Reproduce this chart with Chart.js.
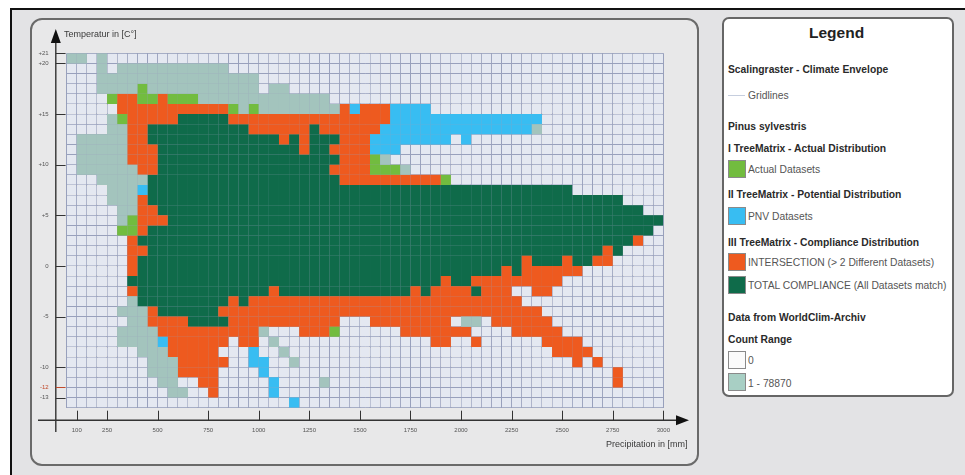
<!DOCTYPE html>
<html>
<head>
<meta charset="utf-8">
<title>Pinus sylvestris - Climate Envelope</title>
<script src="https://cdn.jsdelivr.net/npm/chart.js@4"></script>
<style>
   html, body { margin: 0; width: 965px; height: 475px; overflow: hidden; background: #fff; }
   body, #stage * { font-family: "Liberation Sans", Arial, sans-serif; }
   #stage { position: absolute; left: 0; top: 0; width: 965px; height: 475px; filter: blur(0.6px); }
   #frame { position: absolute; left: 10px; top: 8px; right: 0; bottom: 0; background: #e3e3e5;
            border-left: 2px solid #111; border-top: 2px solid #111; }
   #panel { position: absolute; left: 30px; top: 18px; width: 665px; height: 444px; background: #e8e8e9;
            border: 2px solid #6a6a6a; border-radius: 12px; }
   #legend { position: absolute; left: 722px; top: 17px; width: 228px; height: 376px; background: #fff;
             border: 2px solid #666; border-radius: 7px; }
   canvas { position: absolute; left: 0; top: 0; }
   .t { position: absolute; white-space: nowrap; transform: translateY(-50%); color: #555; font-size: 10.3px; left: 748px; }
   .b { position: absolute; white-space: nowrap; transform: translateY(-50%); color: #2a2a2a; font-size: 10.3px; font-weight: bold; left: 728px; }
   .s { position: absolute; left: 728px; width: 16px; height: 16px; border: 1px solid #8a8a8a; }
</style>
</head>
<body>
<div id="stage">
   <div id="frame"></div>
   <div id="panel"></div>
   <div id="legend"></div>

   <div class="b" style="left:809px;top:33px;font-size:15.5px;color:#222">Legend</div>
   <div class="b" style="top:69px">Scalingraster - Climate Envelope</div>
   <div style="position:absolute;left:728px;top:95px;width:17px;height:1px;background:#c6cede"></div>
   <div class="t" style="top:95px">Gridlines</div>
   <div class="b" style="top:126px">Pinus sylvestris</div>
   <div class="b" style="top:148px">I TreeMatrix - Actual Distribution</div>
   <div class="s" style="top:160px;background:#72bc3f"></div>
   <div class="t" style="top:169px">Actual Datasets</div>
   <div class="b" style="top:194px">II TreeMatrix - Potential Distribution</div>
   <div class="s" style="top:207px;background:#38bdf2"></div>
   <div class="t" style="top:216px">PNV Datasets</div>
   <div class="b" style="top:242px">III TreeMatrix - Compliance Distribution</div>
   <div class="s" style="top:253px;background:#ee5a1f"></div>
   <div class="t" style="top:262px">INTERSECTION (&gt; 2 Different Datasets)</div>
   <div class="s" style="top:276px;background:#0f6b4a"></div>
   <div class="t" style="top:285px">TOTAL COMPLIANCE (All Datasets match)</div>
   <div class="b" style="top:317px">Data from WorldClim-Archiv</div>
   <div class="b" style="top:339px">Count Range</div>
   <div class="s" style="top:351px;background:#fbfbfb"></div>
   <div class="t" style="top:360px">0</div>
   <div class="s" style="top:373px;background:#a8cfc4"></div>
   <div class="t" style="top:383px">1 - 78870</div>

   <canvas id="envelopeChart" width="965" height="475"></canvas>
</div>

<script>
// lower edge of every precipitation column, in mm
const precipitationBins = [
   50, 100, 150, 200, 250, 300, 350, 400, 450, 500, 550, 600, 650, 700, 750, 800, 850, 900, 950, 1000,
   1050, 1100, 1150, 1200, 1250, 1300, 1350, 1400, 1450, 1500, 1550, 1600, 1650, 1700, 1750, 1800, 1850, 1900, 1950, 2000,
   2050, 2100, 2150, 2200, 2250, 2300, 2350, 2400, 2450, 2500, 2550, 2600, 2650, 2700, 2750, 2800, 2850, 2900, 2950
];
// lower edge of every temperature row, in degrees, top row first
const temperatureBins = [
   20, 19, 18, 17, 16, 15, 14, 13, 12, 11, 10, 9, 8, 7, 6, 5, 4, 3, 2, 1, 0,
   -1, -2, -3, -4, -5, -6, -7, -8, -9, -10, -11, -12, -13, -14
];
// one line per temperature row: class letter + column range, anything not listed is count 0
// g = count 1-78870, a = actual, p = PNV, i = intersection, t = total compliance
const cellRuns = [
   "g0-1 g3",
   "g3 g5-15",
   "g3-18",
   "g3-6 a7 g8-18 g20-21",
   "a4 i5-6 a7-8 i9 a10-12 g13-25",
   "i5-15 a16 g17 a18 g19-26 i27 p28 i29-31 p32-35",
   "g4 a5 i6-10 t11-15 i16-31 p32-46",
   "g4-5 i6-7 t8-17 i18-23 t24 i25-30 p31-45 g46",
   "g1-5 i6-7 t8-20 i21 t22 i23 t24-26 i27-29 p30-37 p39",
   "g1-5 i6-8 t9-22 i23 t24-25 i26-29 p30-32",
   "g1-5 i6-8 t9-26 i27-29 a30 g31",
   "g1-6 i7-8 t9-25 i26-29 a30-32 g33",
   "g3-7 t8-26 i27-36 a37",
   "g4-6 p7 t8-49",
   "g4-6 i7 t8-54",
   "g5-6 i7-8 t9-56",
   "g5 a6 i7-9 t10-58",
   "a5-6 i7 t8-57",
   "i6 t7-55 i56",
   "i6-7 t8-52 i53 t54",
   "i6 t7-44 i45 t46-48 i49 t50-51 i52-53",
   "i6 t7-42 i43 t44 i45-50",
   "t6-36 i37 t38-39 i40-48",
   "i6 t7-19 i20 t21-33 i34 t35 i36-39 t40 i41-43 i46-47",
   "g6 t7-15 i16 t17 i18-44",
   "g5-7 i8 t9-14 i15-46",
   "g6-7 i8-11 t12-15 i16-26 i30-37 g39-40 i42-47",
   "g5-8 i9-18 g19 i23-25 a26 i33-39 i44-48",
   "g5-8 p9 i10-15 i17-18 g20 i36-37 i40 i47-50",
   "g7-9 i10-14 p18 g21 i48-51",
   "g8-10 i11-15 p18-19 g22 i50 i52",
   "g8-10 i11-14 p19 i54",
   "g9-10 i13-14 p20 g25 i54",
   "g10-11 i14 p20",
   "p22"
];
const xTickValues = [100, 250, 500, 750, 1000, 1250, 1500, 1750, 2000, 2250, 2500, 2750, 3000];
const yTickValues = [21, 20, 15, 10, 5, 0, -5, -10, -12, -13];
const yTickLabels = ['+21', '+20', '+15', '+10', '+5', '0', '-5', '-10', '-12', '-13'];

const classNames = { z: 'Count 0', g: 'Count 1 - 78870', a: 'Actual Datasets', p: 'PNV Datasets', i: 'INTERSECTION', t: 'TOTAL COMPLIANCE' };
const classColors = { z: '#e4e8f1', g: '#a3c4bd', a: '#72bc3f', p: '#38bdf2', i: '#ee5a1f', t: '#0f6b4a' };

// expand the runs into one list of points per class
const cellPoints = { z: [], g: [], a: [], p: [], i: [], t: [] };
cellRuns.forEach((line, row) => {
   const cols = precipitationBins.map(() => 'z');
   line.split(' ').forEach(run => {
      const [from, to] = run.slice(1).split('-').map(Number);
      for (let c = from; c <= (to === undefined ? from : to); c++) cols[c] = run[0];
   });
   cols.forEach((cls, c) => {
      cellPoints[cls].push({ x: precipitationBins[c] + 25, y: temperatureBins[row] + 0.5 });
   });
});

// axis lines with arrow heads and the tick marks, placed off the scales
const axesPlugin = {
   id: 'axes',
   afterDraw(chart) {
      const { ctx, scales: { x, y }, chartArea: area } = chart;
      const axisY = area.bottom + 12.5;
      const axisX = area.left - 10.8;
      ctx.save();
      ctx.strokeStyle = '#333';
      ctx.fillStyle = '#111';
      ctx.lineWidth = 1.4;
      ctx.beginPath();
      ctx.moveTo(38, axisY);
      ctx.lineTo(680, axisY);
      ctx.moveTo(axisX, 42);
      ctx.lineTo(axisX, 432);
      ctx.stroke();
      // arrows
      ctx.beginPath();
      ctx.moveTo(689, axisY);
      ctx.lineTo(676, axisY - 5);
      ctx.lineTo(676, axisY + 5);
      ctx.closePath();
      ctx.moveTo(axisX, 29);
      ctx.lineTo(axisX - 5, 43);
      ctx.lineTo(axisX + 5, 43);
      ctx.closePath();
      ctx.fill();
      // tick marks
      ctx.lineWidth = 1;
      xTickValues.forEach(v => {
         const px = Math.round(x.getPixelForValue(v)) + 0.5;
         ctx.beginPath();
         ctx.moveTo(px, area.bottom + 3);
         ctx.lineTo(px, axisY);
         ctx.stroke();
      });
      yTickValues.forEach(v => {
         const py = Math.round(y.getPixelForValue(v)) + 0.5;
         ctx.strokeStyle = v === -12 ? '#c0492b' : '#333';
         ctx.beginPath();
         ctx.moveTo(axisX, py);
         ctx.lineTo(area.left - 1, py);
         ctx.stroke();
      });
      // axis titles
      ctx.fillStyle = '#3a3a3a';
      ctx.font = '9px "Liberation Sans"';
      ctx.textBaseline = 'middle';
      ctx.fillText('Temperatur in [C°]', 64, 35);
      ctx.fillText('Precipitation in [mm]', 606, 445);
      ctx.restore();
   }
};

const ctx = document.getElementById('envelopeChart').getContext('2d');
const envelopeChart = new Chart(ctx, {
   type: 'scatter',
   data: {
      datasets: Object.keys(cellPoints).map(cls => ({
         label: classNames[cls],
         data: cellPoints[cls],
         backgroundColor: classColors[cls],
         borderWidth: 0,
         pointStyle: 'rect',
         // empty cells are a bit smaller so the grid underneath shows round them
         pointRadius: cls === 'z' ? 6.4 : 7.14,
         pointHoverRadius: cls === 'z' ? 6.4 : 7.14
      }))
   },
   options: {
      responsive: false,
      animation: false,
      events: [],
      layout: { padding: { left: 36.6, top: 53.3, right: 301.7, bottom: 27.3 } },
      plugins: { legend: { display: false }, tooltip: { enabled: false } },
      scales: {
         x: {
            type: 'linear',
            min: 50,
            max: 3000,
            afterFit: scale => { scale.height = 40; },
            border: { display: false },
            grid: { color: '#98a0bc', lineWidth: 1, drawTicks: false },
            ticks: {
               stepSize: 50,
               autoSkip: false,
               maxRotation: 0,
               padding: 19,
               color: '#555',
               font: { size: 6, family: 'Liberation Sans' },
               callback: value => xTickValues.includes(value) ? String(value) : ''
            }
         },
         y: {
            type: 'linear',
            min: -14,
            max: 21,
            afterFit: scale => { scale.width = 30; },
            border: { display: false },
            grid: { color: '#98a0bc', lineWidth: 1, drawTicks: false },
            ticks: {
               stepSize: 1,
               autoSkip: false,
               padding: 18,
               color: ctx => ctx.tick.value === -12 ? '#c0492b' : '#555',
               font: { size: 6, family: 'Liberation Sans' },
               callback: value => {
                  const i = yTickValues.indexOf(value);
                  return i === -1 ? '' : yTickLabels[i];
               }
            }
         }
      }
   },
   plugins: [axesPlugin]
});
</script>
</body>
</html>
